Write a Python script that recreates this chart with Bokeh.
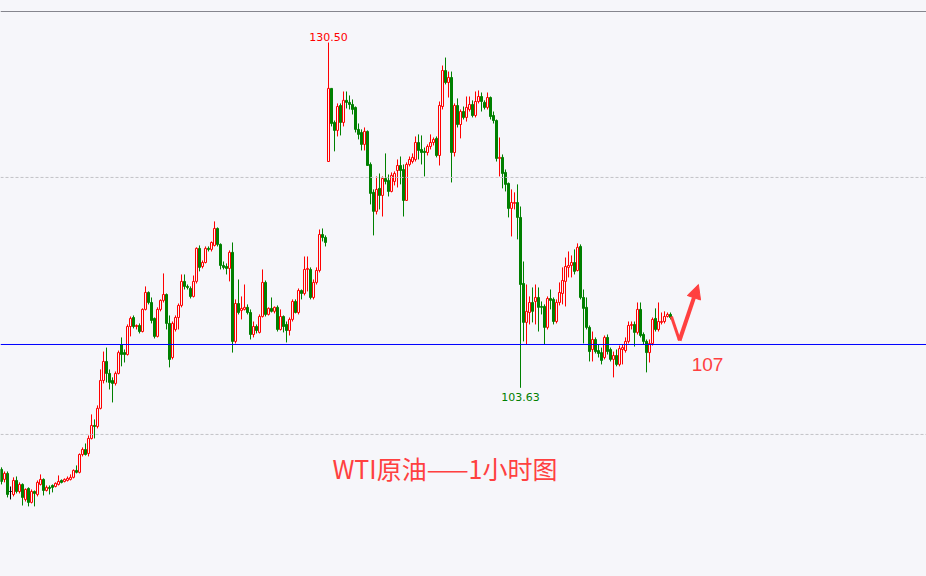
import numpy as np
from bokeh.plotting import figure
from bokeh.models import Span, Arrow, NormalHead, ColumnDataSource
from bokeh.core.properties import value
from bokeh.embed import file_html
from bokeh.resources import INLINE

# ---- data: WTI crude, 1-hour candles ----
opens = [
    97.28, 96.50, 96.97, 95.56, 95.33, 96.42, 95.56, 96.11, 94.94, 95.80,
    94.71, 95.56, 95.33, 96.11, 96.50, 95.64, 95.88, 96.03, 95.95, 96.11,
    96.42, 96.34, 96.42, 96.50, 96.66, 97.20, 97.05, 98.44, 98.83, 98.52,
    99.69, 100.70, 100.62, 102.03, 104.20, 105.68, 104.75, 104.20, 103.97, 104.75,
    107.00, 106.37, 106.22, 108.40, 109.10, 108.40, 108.48, 108.01, 109.73, 111.05,
    110.27, 109.03, 107.63, 109.73, 110.43, 110.89, 108.64, 105.99, 108.17, 109.10,
    110.04, 111.91, 111.52, 111.36, 110.74, 111.91, 114.48, 113.07, 113.38, 114.48,
    114.40, 114.71, 116.03, 114.79, 113.15, 113.07, 112.92, 114.17, 107.24, 110.19,
    109.65, 109.73, 109.89, 109.49, 107.78, 108.40, 107.94, 109.18, 111.83, 109.34,
    109.81, 109.58, 109.89, 108.17, 109.18, 108.56, 108.09, 108.95, 110.35, 109.49,
    111.20, 110.97, 112.84, 112.84, 110.66, 111.83, 112.76, 115.56, 115.33, 121.24,
    126.93, 124.28, 123.66, 125.60, 124.28, 126.00, 125.84, 125.68, 125.45, 123.74,
    123.50, 122.57, 123.58, 121.01, 118.84, 117.36, 119.15, 118.60, 119.92, 119.77,
    118.91, 119.69, 120.54, 120.93, 120.62, 118.21, 121.01, 121.24, 121.40, 122.72,
    122.18, 122.03, 121.94, 122.41, 122.72, 123.04, 121.71, 125.52, 128.32, 127.39,
    127.78, 121.94, 125.60, 124.12, 125.13, 124.67, 125.29, 125.68, 124.82, 125.91,
    126.30, 125.84, 125.45, 126.22, 124.82, 124.43, 121.48, 121.56, 120.39, 119.53,
    117.59, 117.98, 118.05, 116.89, 111.75, 108.72, 109.49, 110.27, 110.35, 110.66,
    109.96, 109.96, 108.33, 110.58, 110.51, 108.79, 110.27, 110.97, 111.91, 113.00,
    113.15, 113.38, 112.76, 114.63, 110.66, 109.89, 108.33, 106.61, 107.39, 106.53,
    106.37, 105.99, 107.55, 106.61, 105.84, 106.14, 105.45, 106.61, 106.53, 107.24,
    108.48, 108.56, 107.94, 109.73, 107.78, 107.24, 106.37, 107.08, 109.03, 108.17,
    108.72, 108.79, 109.18, 109.34,
]
highs = [
    97.44, 97.12, 97.12, 95.95, 96.66, 96.73, 96.27, 96.19, 95.80, 95.88,
    95.72, 95.64, 96.42, 96.89, 96.58, 96.03, 96.03, 96.11, 96.27, 96.81,
    96.50, 96.58, 96.73, 96.89, 97.28, 97.59, 98.52, 98.99, 99.30, 99.92,
    101.56, 101.17, 102.26, 105.06, 106.45, 106.76, 105.06, 104.44, 104.90, 106.53,
    107.55, 106.61, 108.56, 109.18, 109.26, 108.56, 108.64, 109.81, 111.52, 111.13,
    110.66, 109.10, 109.89, 110.51, 112.53, 110.97, 109.26, 108.79, 109.26, 110.19,
    112.45, 112.45, 111.67, 111.52, 112.37, 114.56, 114.71, 113.54, 114.63, 114.63,
    115.02, 116.58, 116.11, 114.87, 113.46, 113.31, 114.32, 114.94, 110.51, 112.06,
    110.74, 111.67, 110.12, 109.73, 108.79, 108.56, 109.34, 112.84, 111.98, 109.89,
    110.66, 109.96, 110.04, 109.73, 109.26, 108.79, 109.10, 110.51, 110.51, 111.36,
    111.28, 113.85, 113.85, 113.00, 112.06, 113.00, 115.95, 116.03, 115.49, 130.50,
    126.93, 124.43, 125.76, 125.76, 126.69, 126.69, 126.38, 126.07, 125.52, 124.20,
    123.74, 123.89, 123.66, 121.17, 119.07, 120.08, 120.31, 120.08, 121.87, 120.23,
    120.39, 120.47, 121.40, 121.63, 121.01, 121.17, 121.63, 121.87, 123.19, 123.35,
    123.27, 122.33, 122.57, 123.35, 123.11, 123.19, 125.91, 128.71, 129.33, 128.24,
    128.24, 125.76, 126.15, 125.29, 125.52, 126.30, 126.30, 126.00, 126.69, 126.77,
    126.61, 126.00, 126.61, 126.30, 125.13, 124.51, 123.11, 121.79, 120.62, 119.61,
    119.07, 118.84, 119.46, 117.74, 113.46, 111.67, 110.74, 111.44, 111.67, 111.44,
    110.35, 110.12, 110.74, 111.28, 110.66, 110.51, 111.83, 113.00, 113.77, 114.24,
    113.93, 114.40, 114.87, 114.79, 111.28, 110.66, 108.48, 108.01, 107.55, 107.00,
    106.76, 107.70, 107.78, 106.76, 106.45, 106.61, 106.92, 107.00, 107.55, 108.79,
    108.79, 108.79, 110.27, 110.27, 107.94, 107.39, 107.39, 109.10, 109.81, 110.27,
    109.49, 109.58, 109.49, 109.49,
]
lows = [
    96.11, 96.27, 95.10, 94.94, 95.18, 95.41, 95.41, 94.47, 94.78, 94.40,
    94.63, 94.40, 95.18, 96.03, 95.25, 95.56, 95.33, 95.49, 95.88, 96.03,
    96.19, 96.27, 96.34, 96.42, 96.58, 96.97, 96.97, 98.29, 98.36, 98.29,
    99.61, 99.69, 100.47, 101.95, 103.97, 104.05, 103.50, 102.49, 103.81, 104.67,
    105.30, 105.60, 106.14, 107.63, 108.25, 108.17, 107.86, 107.94, 109.65, 110.12,
    108.64, 107.47, 107.55, 109.58, 110.27, 108.17, 105.22, 105.84, 108.01, 108.17,
    109.89, 111.28, 111.28, 110.58, 110.66, 111.75, 112.69, 112.92, 113.31, 114.24,
    114.24, 114.63, 114.63, 112.84, 112.84, 112.45, 111.91, 106.37, 107.08, 109.34,
    108.95, 109.65, 109.34, 107.39, 107.55, 107.86, 107.86, 109.10, 109.18, 109.26,
    109.49, 109.42, 108.01, 108.09, 107.94, 107.16, 107.70, 108.79, 109.42, 109.34,
    110.51, 110.82, 111.13, 110.51, 110.51, 111.67, 112.61, 115.02, 114.63, 121.24,
    123.97, 122.03, 123.19, 123.27, 123.97, 125.37, 125.29, 124.90, 123.50, 122.96,
    122.10, 122.10, 120.93, 117.90, 115.49, 117.12, 117.51, 116.96, 119.46, 118.52,
    118.84, 119.38, 119.22, 119.46, 116.96, 118.21, 120.86, 121.09, 121.24, 121.40,
    121.01, 120.08, 121.71, 122.18, 122.49, 121.56, 120.93, 125.29, 127.24, 126.22,
    119.61, 121.63, 123.89, 123.04, 124.51, 124.35, 125.13, 124.67, 124.67, 125.76,
    125.13, 125.29, 125.29, 124.51, 124.20, 121.24, 120.08, 119.15, 118.91, 116.89,
    115.41, 117.51, 115.18, 103.63, 107.24, 107.00, 108.56, 108.72, 108.56, 108.01,
    109.34, 107.00, 108.17, 109.73, 108.56, 108.64, 110.04, 110.12, 109.96, 112.22,
    112.22, 112.45, 112.69, 110.51, 107.08, 108.17, 105.68, 105.68, 106.30, 105.99,
    105.45, 105.84, 106.22, 105.68, 104.44, 105.30, 105.30, 105.45, 106.37, 107.08,
    108.17, 106.84, 107.78, 107.55, 107.00, 104.83, 105.60, 106.92, 108.01, 108.01,
    108.56, 108.64, 109.10, 108.95,
]
closes = [
    96.34, 96.97, 95.33, 95.56, 96.42, 95.56, 96.11, 95.10, 95.72, 94.71,
    95.56, 95.41, 96.27, 96.50, 95.64, 95.88, 95.80, 95.88, 96.19, 96.34,
    96.27, 96.50, 96.58, 96.66, 97.20, 97.05, 98.44, 98.83, 98.44, 99.69,
    100.70, 100.62, 102.03, 104.20, 105.68, 104.75, 104.05, 103.97, 104.75, 106.37,
    106.22, 106.22, 108.40, 109.03, 108.40, 108.48, 108.01, 109.73, 111.05, 110.27,
    108.87, 107.63, 109.73, 110.43, 110.89, 108.64, 105.84, 108.64, 109.10, 110.04,
    111.91, 111.52, 111.44, 110.74, 111.91, 114.48, 113.00, 113.38, 114.48, 114.40,
    114.94, 116.03, 114.79, 113.15, 113.00, 112.92, 114.17, 107.24, 110.19, 109.49,
    109.81, 109.89, 109.49, 107.78, 108.40, 108.09, 109.18, 111.83, 109.34, 109.81,
    109.58, 109.89, 108.17, 109.18, 108.40, 108.09, 108.95, 110.35, 109.49, 111.20,
    110.97, 112.84, 112.92, 110.66, 111.83, 112.76, 115.56, 115.33, 114.94, 126.93,
    124.20, 123.66, 125.52, 124.28, 126.00, 125.84, 125.68, 125.29, 123.74, 123.35,
    122.57, 123.58, 120.93, 118.76, 117.36, 119.07, 118.60, 119.92, 119.69, 118.91,
    120.16, 120.31, 120.93, 120.54, 118.21, 121.01, 121.40, 121.56, 122.72, 122.10,
    121.94, 121.94, 122.41, 122.72, 122.96, 121.71, 125.60, 128.32, 127.39, 127.78,
    121.94, 125.60, 124.12, 125.13, 124.67, 125.45, 125.68, 124.82, 125.91, 126.30,
    125.91, 125.45, 126.22, 124.74, 124.43, 121.48, 121.56, 120.31, 119.46, 117.59,
    118.05, 118.05, 116.89, 111.67, 108.72, 109.58, 110.27, 109.58, 110.66, 109.89,
    109.89, 108.33, 110.58, 110.43, 108.79, 110.27, 111.05, 111.98, 113.07, 113.15,
    113.38, 112.69, 114.56, 110.66, 109.81, 108.33, 106.45, 107.39, 106.45, 106.30,
    105.76, 107.55, 106.45, 105.84, 106.14, 105.45, 106.68, 106.76, 107.24, 108.48,
    108.56, 107.94, 109.73, 107.70, 107.24, 106.37, 107.08, 108.95, 108.17, 108.79,
    108.79, 109.18, 109.34, 109.10,
]
grid_levels = [100, 120]
key_level = 107
key_level_label = "107"
title_text = "WTI原油——1小时图"

# ---- layout / style ----
W, H = 926, 576
BG = "#f6f6fa"
UP, DOWN, FLAT = "#ff0000", "#008000", "#000000"
ANN_RED = "#ff4040"
X0 = -1.0 / 3.0
X1 = X0 + W / 3.0            # 3 px per candle
Y1 = 133.770
Y0 = Y1 - H / 12.85          # 12.85 px per dollar
PY = (Y1 - Y0) / H           # price per screen px
PX = (X1 - X0) / W           # index per screen px

o = np.array(opens); h = np.array(highs); l = np.array(lows); c = np.array(closes)
n = len(o)
idx = np.arange(n)
line_col = np.where(c > o, UP, np.where(c < o, DOWN, FLAT))
fill_col = np.where(c > o, BG, np.where(c < o, DOWN, FLAT))

src = ColumnDataSource(dict(
    x=idx, high=h, low=l, top=np.maximum(o, c), bottom=np.minimum(o, c),
    lc=line_col, fc=fill_col,
))

p = figure(width=W, height=H, x_range=(X0, X1), y_range=(Y0, Y1),
           output_backend="svg", toolbar_location=None, min_border=0,
           x_axis_location=None, y_axis_location=None,
           background_fill_color=BG, border_fill_color=BG,
           outline_line_color=None)
p.grid.visible = False

# frame line at the top
p.add_layout(Span(location=Y1 - 11 * PY, dimension="width",
                  line_color="#86868e", line_width=1))
for g in grid_levels:
    p.add_layout(Span(location=g, dimension="width", line_color="#c2c2c6",
                      line_width=1, line_dash="3 2"))

p.segment(x0="x", y0="high", x1="x", y1="low", line_color="lc",
          line_width=1, source=src)
p.vbar(x="x", width=2.0 / 3.0, top="top", bottom="bottom", fill_color="fc",
       line_color="lc", line_width=1, source=src)

# key level line
p.add_layout(Span(location=key_level, dimension="width",
                  line_color="#0000ff", line_width=1))

# high / low labels (peak and the low that followed it)
i_hi = int(np.argmax(h))
i_lo = i_hi + int(np.argmin(l[i_hi:]))
p.text(x=[i_hi], y=[h[i_hi] + 2 * PY], text=[f"{h[i_hi]:.2f}"],
       text_align="center", text_baseline="bottom", text_color=UP,
       text_font=value("DejaVu Sans"), text_font_size="11px")
p.text(x=[i_lo], y=[l[i_lo] - 5 * PY], text=[f"{l[i_lo]:.2f}"],
       text_align="center", text_baseline="top", text_color=DOWN,
       text_font=value("DejaVu Sans"), text_font_size="11px")

# key level label
p.text(x=[n - 1 + 37 * PX], y=[key_level - 20.5 * PY], text=[key_level_label],
       text_align="center", text_baseline="middle", text_color=ANN_RED,
       text_font=value("Liberation Sans"), text_font_size="19px")

# title
p.text(x=[110.3], y=[97.4], text=[title_text], text_align="left",
       text_baseline="middle", text_color=ANN_RED,
       text_font=value("Noto Sans CJK SC"), text_font_size="25px")

# forecast zigzag arrow
arrow_x = [223.3, 226.0, 232.3]
arrow_y = [109.18, 107.31, 111.67]
p.line(x=arrow_x[:2], y=arrow_y[:2], line_color=ANN_RED, line_width=3)
p.add_layout(Arrow(x_start=arrow_x[1], y_start=arrow_y[1],
                   x_end=arrow_x[2], y_end=arrow_y[2],
                   line_color=ANN_RED, line_width=4,
                   end=NormalHead(size=14, fill_color=ANN_RED,
                                  line_color=ANN_RED)))

html = file_html(p, INLINE)
html = html.replace("<head>", "<head><style>body{background:#f6f6fa;}</style>", 1)
open("out.html", "w").write(html)
